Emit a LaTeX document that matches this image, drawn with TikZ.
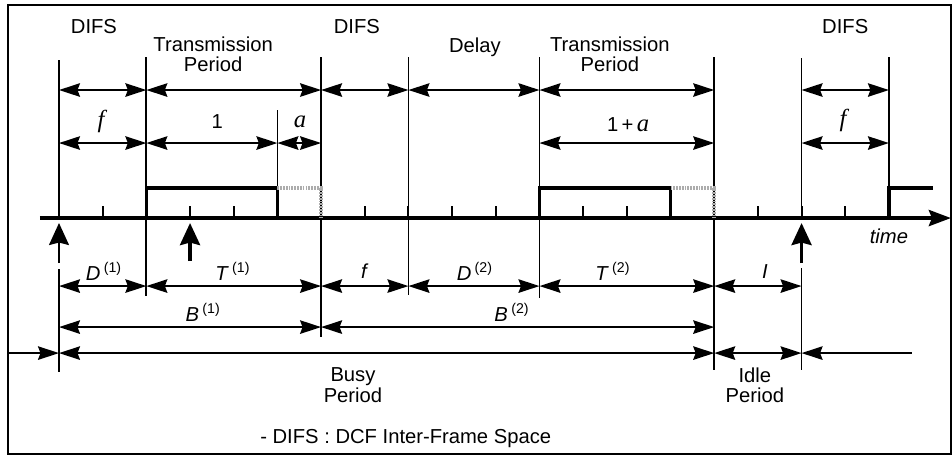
\documentclass[tikz,border=0pt]{standalone}
\usepackage{fontspec}
\setmainfont{Liberation Sans}
\newfontfamily\serifface{Liberation Serif}
\usetikzlibrary{arrows.meta}
\newcommand{\vf}{{\serifface\itshape f}}
\newcommand{\va}{{\serifface\itshape a}}
\newcommand{\sym}[2]{\textit{#1}\,\textsuperscript{(#2)}}
\tikzset{
  vline/.style={line width=1pt},
  dim/.style={{Stealth[length=4.2mm,width=2.7mm,inset=0.5mm]}-{Stealth[length=4.2mm,width=2.7mm,inset=0.5mm]}, line width=1pt},
  dimend/.style={-{Stealth[length=4.2mm,width=2.7mm,inset=0.5mm]}, line width=1pt},
  dimstart/.style={{Stealth[length=4.2mm,width=2.7mm,inset=0.5mm]}-, line width=1pt},
  uparrow/.style={-{Stealth[length=4.4mm,width=4mm,inset=0.5mm]}},
  pulse/.style={line width=2pt, line join=miter},
  hatch/.style={draw=gray!65, line width=2pt, dash pattern=on 1pt off 0.6pt},
  lbl/.style={inner sep=1pt, align=center}
}
\begin{document}
\begin{tikzpicture}[x=0.8736cm,y=-0.02cm,font=\fontsize{11.5}{11.5}\selectfont]
  \useasboundingbox (-1.3507,0) rectangle (20.4441,457);
  \draw[line width=1pt] (-1.168,5) rectangle (20.42,454);
  % boundaries on the time axis
  \coordinate (b0) at (0,218);
  \coordinate (b2) at (2,218);
  \coordinate (ba) at (5,218);
  \coordinate (b3) at (6,218);
  \coordinate (b4) at (8,218);
  \coordinate (b5) at (11,218);
  \coordinate (b6) at (15,218);
  \coordinate (b7) at (17,218);
  \coordinate (b8) at (19,218);
  % rows of dimension arrows
  \coordinate (rA) at (0,90);
  \coordinate (rB) at (0,143);
  \coordinate (rC) at (0,286);
  \coordinate (rD) at (0,327);
  \coordinate (rE) at (0,353);
  \coordinate (fl) at (-1.168,353);
  \coordinate (fr) at (19.53,353);

  % vertical boundary lines
  \draw[vline] (0,60) -- (b0);
  \draw[vline] (0,269) -- (0,372);
  \draw[vline] (2,57) -- (2,296);
  \draw[vline] (5,110) -- (5,188);
  \draw[vline] (6,57) -- (6,337);
  \draw[vline] (8,57) -- (8,295);
  \draw[vline] (11,57) -- (11,298);
  \draw[vline] (15,57) -- (15,370);
  \draw[vline] (17,58) -- (b7);
  \draw[vline] (17,268) -- (17,370);
  \draw[vline] (19,57) -- (b8);

  % time axis and ticks
  \draw[line width=2.2pt,-{Stealth[length=4.4mm,width=3.2mm,inset=0.6mm]}] (-0.435,218) -- (20.42,218);
  \foreach \i in {0,...,19} {
    \draw[line width=1.1pt] (\i,218) -- (\i,206);
  }
  \node[lbl] (time) at (19.0,236) {\textit{time}};

  % transmissions
  \draw[pulse] (b2) -- (2,188) -- (5,188) -- (ba);
  \draw[hatch] (5,188) -- (6,188) -- (b3);
  \draw[pulse] (b5) -- (11,188) -- (14,188) -- (14,218);
  \draw[hatch] (14,188) -- (15,188) -- (b6);
  \draw[pulse] (b8) -- (19,188) -- (20,188);

  % arrivals
  \draw[uparrow,line width=1pt] (0,263) -- (0,223);
  \draw[uparrow,line width=2pt] (3,261) -- (3,223);
  \draw[uparrow,line width=2pt] (17,263) -- (17,223);

  % top labels
  \node[lbl] (difs1) at (0.80,27) {DIFS};
  \node[lbl] (tp1) at (3.53,54) {Transmission\\Period};
  \node[lbl] (difs2) at (6.82,27) {DIFS};
  \node[lbl] (delay) at (9.52,47) {Delay};
  \node[lbl] (tp2) at (12.61,54) {Transmission\\Period};
  \node[lbl] (difs3) at (18.0,27) {DIFS};

  % row A
  \draw[dim] (b0|-rA) -- (b2|-rA);
  \draw[dim] (b2|-rA) -- (b3|-rA);
  \draw[dim] (b3|-rA) -- (b4|-rA);
  \draw[dim] (b4|-rA) -- (b5|-rA);
  \draw[dim] (b5|-rA) -- (b6|-rA);
  \draw[dim] (b7|-rA) -- (b8|-rA);

  % row B
  \draw[dim] (b0|-rB) -- (b2|-rB);
  \draw[dim] (b2|-rB) -- (ba|-rB);
  \draw[dim] (ba|-rB) -- (b3|-rB);
  \draw[dim] (b5|-rB) -- (b6|-rB);
  \draw[dim] (b7|-rB) -- (b8|-rB);
  \node[lbl,font=\fontsize{14}{14}\selectfont] (f1) at (0.96,121) {\vf};
  \node[lbl] (one) at (3.62,122) {1};
  \node[lbl,font=\fontsize{14}{14}\selectfont] (a1) at (5.52,122) {\va};
  \node[lbl] (onea) at (13.03,125) {1\,+\,{\fontsize{14}{14}\selectfont\va}};
  \node[lbl,font=\fontsize{14}{14}\selectfont] (f2) at (17.95,120) {\vf};

  % row C
  \draw[dim] (b0|-rC) -- (b2|-rC);
  \draw[dim] (b2|-rC) -- (b3|-rC);
  \draw[dim] (b3|-rC) -- (b4|-rC);
  \draw[dim] (b4|-rC) -- (b5|-rC);
  \draw[dim] (b5|-rC) -- (b6|-rC);
  \draw[dim] (b6|-rC) -- (b7|-rC);
  \node[lbl] (d1) at (1.03,271) {\sym{D}{1}};
  \node[lbl] (t1) at (3.98,271) {\sym{T}{1}};
  \node[lbl] (f3) at (7.0,271) {\textit{f}};
  \node[lbl] (d2) at (9.52,271) {\sym{D}{2}};
  \node[lbl] (t2) at (12.68,271) {\sym{T}{2}};
  \node[lbl] (idle) at (16.16,271) {\textit{I}};

  % row D
  \draw[dim] (b0|-rD) -- (b3|-rD);
  \draw[dim] (b3|-rD) -- (b6|-rD);
  \node[lbl] (bb1) at (3.3,312) {\sym{B}{1}};
  \node[lbl] (bb2) at (10.37,312) {\sym{B}{2}};

  % row E
  \draw[dimend] (fl) -- (b0|-rE);
  \draw[dim] (b0|-rE) -- (b6|-rE);
  \draw[dim] (b6|-rE) -- (b7|-rE);
  \draw[dimstart] (b7|-rE) -- (fr);
  \node[lbl] (busy) at (6.73,385) {Busy\\Period};
  \node[lbl] (idlep) at (15.93,385) {Idle\\Period};

  \node[lbl,anchor=west] (note) at (4.56,438) {- DIFS : DCF Inter-Frame Space};
\end{tikzpicture}
\end{document}
